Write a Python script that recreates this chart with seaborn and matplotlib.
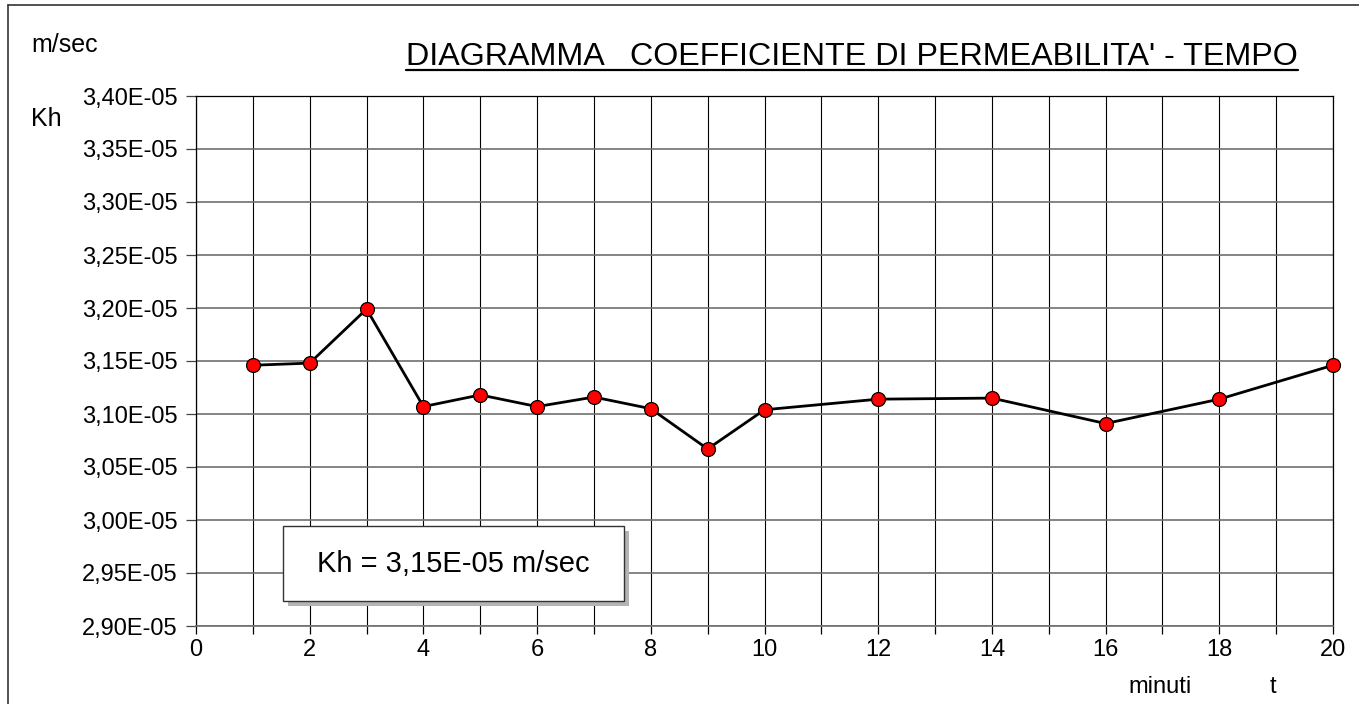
import numpy as np
import pandas as pd
import seaborn as sns
import matplotlib
matplotlib.use("Agg")
import matplotlib.pyplot as plt
from matplotlib.patches import Rectangle
from matplotlib.lines import Line2D

# ---- data ----
minutes = [1, 2, 3, 4, 5, 6, 7, 8, 9, 10, 12, 14, 16, 18, 20]
kh_values = [3.146e-5, 3.148e-5, 3.199e-5, 3.107e-5, 3.118e-5, 3.107e-5, 3.116e-5,
             3.105e-5, 3.067e-5, 3.104e-5, 3.114e-5, 3.115e-5, 3.091e-5, 3.114e-5, 3.146e-5]
y_tick_values = [2.90e-5, 2.95e-5, 3.00e-5, 3.05e-5, 3.10e-5, 3.15e-5,
                 3.20e-5, 3.25e-5, 3.30e-5, 3.35e-5, 3.40e-5]
y_tick_labels = ["2,90E-05", "2,95E-05", "3,00E-05", "3,05E-05", "3,10E-05", "3,15E-05",
                 "3,20E-05", "3,25E-05", "3,30E-05", "3,35E-05", "3,40E-05"]
x_major_ticks = [0, 2, 4, 6, 8, 10, 12, 14, 16, 18, 20]
x_minor_ticks = list(range(0, 21))
title_text = "DIAGRAMMA   COEFFICIENTE DI PERMEABILITA' - TEMPO"
box_text = "Kh = 3,15E-05 m/sec"

df = pd.DataFrame({"t": minutes, "kh": kh_values})

sns.set_theme(style="white")
plt.rcParams["font.family"] = ["Liberation Sans", "DejaVu Sans"]

W, H = 1359, 704
fig = plt.figure(figsize=(W / 100, H / 100), dpi=100)
fig.patch.set_facecolor("white")
ax = fig.add_axes([196 / W, 1 - 626 / H, (1333 - 196) / W, (626 - 96) / H])

sns.lineplot(data=df, x="t", y="kh", ax=ax, color="black", linewidth=2.0,
             marker="o", markersize=10, markerfacecolor="red",
             markeredgecolor="black", markeredgewidth=0.9, zorder=5, clip_on=False)

ax.set_xlim(0, 20)
ax.set_ylim(2.90e-5, 3.40e-5)
ax.set_xticks(x_major_ticks)
ax.set_xticklabels([str(v) for v in x_major_ticks])
ax.set_xticks(x_minor_ticks, minor=True)
ax.set_yticks(y_tick_values)
ax.set_yticklabels(y_tick_labels)
ax.set_xlabel("")
ax.set_ylabel("")

ax.grid(True, which="both", axis="x", color="black", linewidth=0.8)
ax.grid(True, which="major", axis="y", color="#707070", linewidth=1.2)
ax.set_axisbelow(True)

for side in ["left", "top", "right"]:
    ax.spines[side].set_color("black")
    ax.spines[side].set_linewidth(0.9)
ax.spines["bottom"].set_color("#707070")
ax.spines["bottom"].set_linewidth(1.2)

ax.tick_params(axis="y", which="major", left=True, direction="out", length=7,
               width=0.9, color="#444444", labelsize=17, pad=6, labelcolor="black")
ax.tick_params(axis="x", which="both", bottom=True, direction="out", length=6,
               width=0.9, color="black", labelsize=17, pad=3, labelcolor="black")

# figure frame (top and left visible)
fig.add_artist(Line2D([7.5 / W, 7.5 / W], [0, 1 - 4.5 / H], transform=fig.transFigure,
                      color="#333333", linewidth=1.2))
fig.add_artist(Line2D([7.5 / W, 1], [1 - 4.5 / H, 1 - 4.5 / H], transform=fig.transFigure,
                      color="#333333", linewidth=1.2))

# texts
fig.text(31 / W, 1 - 52 / H, "m/sec", fontsize=18, color="black", ha="left", va="baseline")
fig.text(31 / W, 1 - 126 / H, "Kh", fontsize=18, color="black", ha="left", va="baseline")
t = fig.text(852 / W, 1 - 65 / H, title_text, fontsize=23.2, color="black",
             ha="center", va="baseline")
fig.text(1128 / W, 1 - 693 / H, "minuti", fontsize=17, color="black", ha="left", va="baseline")
fig.text(1270 / W, 1 - 693 / H, "t", fontsize=17, color="black", ha="left", va="baseline")

# underline of title
fig.canvas.draw()
bb = t.get_window_extent()
fig.add_artist(Line2D([bb.x0 / W, bb.x1 / W], [1 - 70 / H, 1 - 70 / H],
                      transform=fig.transFigure, color="black", linewidth=1.6))

# annotation box with shadow
bx0, bx1, by0, by1 = 283, 624, 526, 601
fig.add_artist(Rectangle(((bx0 + 5) / W, 1 - (by1 + 5) / H), (bx1 - bx0) / W, (by1 - by0) / H,
                         transform=fig.transFigure, facecolor="#b4b4b4", edgecolor="none",
                         zorder=6))
fig.add_artist(Rectangle((bx0 / W, 1 - by1 / H), (bx1 - bx0) / W, (by1 - by0) / H,
                         transform=fig.transFigure, facecolor="white", edgecolor="#333333",
                         linewidth=1.0, zorder=7))
fig.text((bx0 + bx1) / 2 / W, 1 - (by0 + by1) / 2 / H, box_text, fontsize=21, color="black",
         ha="center", va="center", zorder=8)

fig.savefig("out.png", dpi=100, facecolor="white")
